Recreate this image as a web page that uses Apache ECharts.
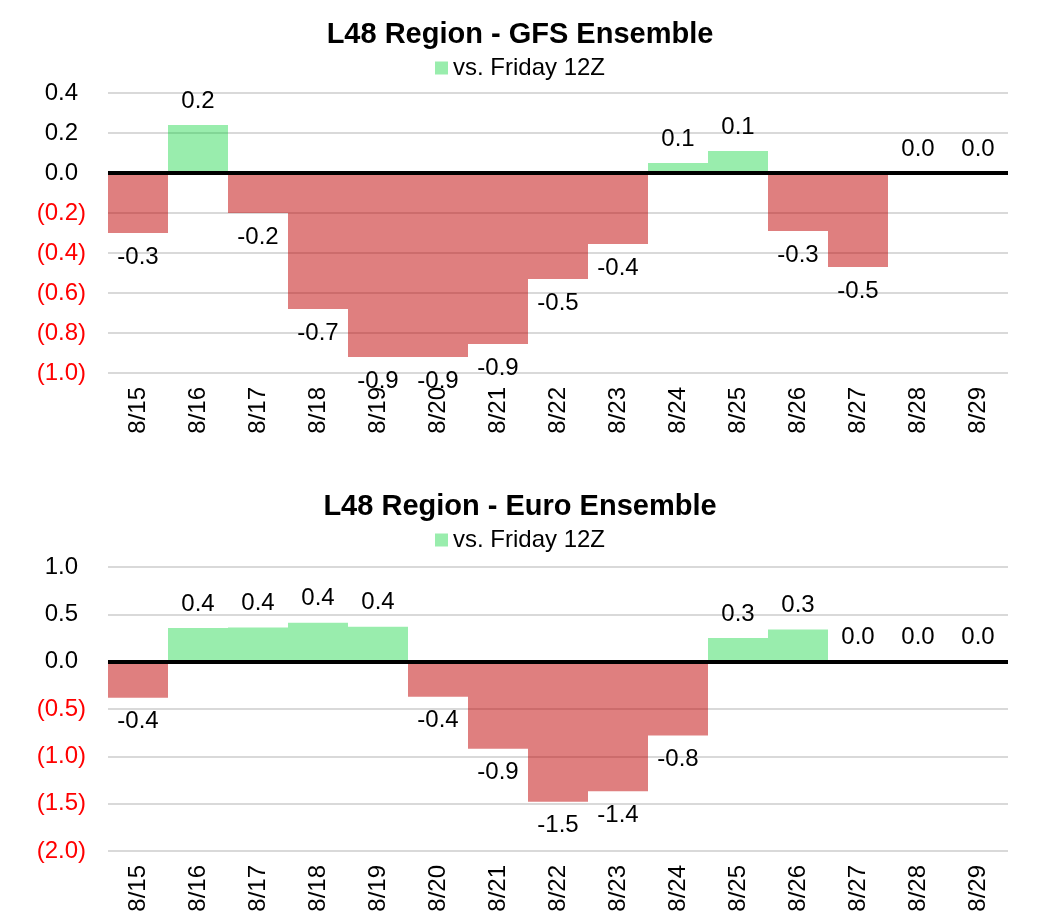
<!DOCTYPE html>
<html lang="en">
<head>
<meta charset="UTF-8">
<title>L48 Region - Ensemble changes</title>
<script src="https://cdn.jsdelivr.net/npm/echarts@6/dist/echarts.min.js"></script>
<style>
  html, body { margin: 0; padding: 0; background: #fff; }
  #main { width: 1040px; height: 919px; }
</style>
</head>
<body>
<div id="main"></div>
<script>
// categories (both charts share the same days)
var days = ['8/15', '8/16', '8/17', '8/18', '8/19', '8/20', '8/21', '8/22',
            '8/23', '8/24', '8/25', '8/26', '8/27', '8/28', '8/29'];

// GFS ensemble, change vs. Friday 12Z
var gfsValues = [-0.30, 0.24, -0.20, -0.68, -0.92, -0.92, -0.855, -0.53,
                 -0.355, 0.05, 0.11, -0.29, -0.47, 0.0, 0.0];

// Euro ensemble, change vs. Friday 12Z
var euroValues = [-0.38, 0.355, 0.36, 0.41, 0.37, -0.37, -0.92, -1.48,
                  -1.37, -0.78, 0.25, 0.34, 0.0, 0.0, 0.0];

var seriesName = 'vs. Friday 12Z';
var titles = ['L48 Region - GFS Ensemble', 'L48 Region - Euro Ensemble'];

var FONT = '"Liberation Sans", Arial, sans-serif';
var GREEN = 'rgba(0, 210, 50, 0.4)';
var RED = 'rgba(192, 0, 0, 0.5)';

// green for gains, red for losses; label above or below the bar end
function buildData(values) {
    return values.map(function (v) {
        return {
            value: v,
            itemStyle: { color: v < 0 ? RED : GREEN },
            label: { position: v < 0 ? 'bottom' : 'top' }
        };
    });
}

// 0.4 / (0.2) style, red for negatives
function yLabel(v) {
    if (v < -1e-9) return '{neg|(' + Math.abs(v).toFixed(1) + ')}';
    return '{pos|' + Math.abs(v).toFixed(1) + '}';
}

function xAxisFor(idx) {
    return {
        type: 'category',
        gridIndex: idx,
        data: days,
        axisLine: { show: false },
        axisTick: { show: false },
        axisLabel: {
            rotate: 90, interval: 0, margin: 14,
            fontSize: 24, fontFamily: FONT, color: '#000'
        }
    };
}

function yAxisFor(idx, min, max, step) {
    return {
        type: 'value',
        gridIndex: idx,
        min: min, max: max, interval: step,
        axisLine: { show: false },
        axisTick: { show: false },
        splitLine: { lineStyle: { color: '#D9D9D9', width: 2 } },
        axisLabel: {
            margin: 22,
            formatter: yLabel,
            rich: {
                pos: { fontSize: 24, fontFamily: FONT, color: '#000', padding: [0, 8, 0, 0] },
                neg: { fontSize: 24, fontFamily: FONT, color: '#FF0000' }
            }
        }
    };
}

function barSeries(idx, values) {
    return {
        name: seriesName,
        type: 'bar',
        xAxisIndex: idx,
        yAxisIndex: idx,
        barCategoryGap: '0%',
        data: buildData(values),
        itemStyle: { color: GREEN },
        label: {
            show: true,
            distance: 12,
            fontSize: 24,
            fontFamily: FONT,
            color: '#000',
            formatter: function (p) { return p.value.toFixed(1); }
        },
        markLine: {
            silent: true,
            symbol: 'none',
            label: { show: false },
            lineStyle: { color: '#000', width: 4, type: 'solid' },
            data: [{ yAxis: 0 }]
        }
    };
}

var myChart = echarts.init(document.getElementById('main'));
var option = {
    animation: false,
    backgroundColor: '#fff',
    title: [
        { text: titles[0], left: 'center', top: 15,
          textStyle: { fontSize: 29, fontWeight: 'bold', fontFamily: FONT, color: '#000' } },
        { text: titles[1], left: 'center', top: 487,
          textStyle: { fontSize: 29, fontWeight: 'bold', fontFamily: FONT, color: '#000' } }
    ],
    legend: [
        { top: 51, left: 'center', itemWidth: 13, itemHeight: 13, itemGap: 10,
          icon: 'rect', selectedMode: false,
          textStyle: { fontSize: 24, fontFamily: FONT, color: '#000' },
          data: [{ name: seriesName, itemStyle: { color: GREEN } }] },
        { top: 523, left: 'center', itemWidth: 13, itemHeight: 13, itemGap: 10,
          icon: 'rect', selectedMode: false,
          textStyle: { fontSize: 24, fontFamily: FONT, color: '#000' },
          data: [{ name: seriesName, itemStyle: { color: GREEN } }] }
    ],
    grid: [
        { left: 108, width: 900, top: 93, height: 280 },
        { left: 108, width: 900, top: 567, height: 284 }
    ],
    xAxis: [xAxisFor(0), xAxisFor(1)],
    yAxis: [yAxisFor(0, -1.0, 0.4, 0.2), yAxisFor(1, -2.0, 1.0, 0.5)],
    series: [barSeries(0, gfsValues), barSeries(1, euroValues)]
};
myChart.setOption(option);
</script>
</body>
</html>
